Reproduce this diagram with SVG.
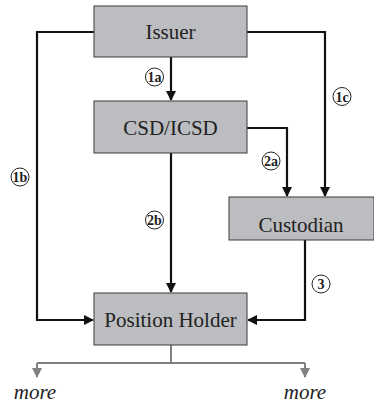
<svg xmlns="http://www.w3.org/2000/svg" width="374" height="405" viewBox="0 0 374 405">
<style>
text{font-family:'Liberation Serif','DejaVu Serif',serif}
.box{fill:#bcbdc0;stroke:#3a3a3a;stroke-width:1}
.lbl{font-size:21px;fill:#222;text-anchor:middle}
.ln{fill:none;stroke:#111;stroke-width:2.2}
.gl{fill:none;stroke:#808080;stroke-width:2}
.cir{fill:#fff;stroke:#222;stroke-width:1}
.num{font-size:14px;font-weight:bold;fill:#222;text-anchor:middle}
.more{font-size:21px;font-style:italic;fill:#222;text-anchor:middle}
</style>
<defs>
<marker id="ah" markerWidth="10" markerHeight="10" refX="9" refY="5" orient="auto" markerUnits="userSpaceOnUse">
<path d="M0,0 L10,5 L0,10 Z" fill="#111"/>
</marker>
<marker id="gh" markerWidth="10" markerHeight="10" refX="9" refY="5" orient="auto" markerUnits="userSpaceOnUse">
<path d="M0,0 L10,5 L0,10 Z" fill="#808080"/>
</marker>
</defs>
<g id="connectors">
<path class="ln" d="M171,57 V100" marker-end="url(#ah)"/>
<path class="ln" d="M94,32 H37 V320 H93" marker-end="url(#ah)"/>
<path class="ln" d="M247,32 H325 V196" marker-end="url(#ah)"/>
<path class="ln" d="M247,128 H287 V196" marker-end="url(#ah)"/>
<path class="ln" d="M171,153 V292" marker-end="url(#ah)"/>
<path class="ln" d="M305,240 V320 H248" marker-end="url(#ah)"/>
<path class="gl" d="M171,345 V363"/>
<path class="gl" d="M37,363 H305"/>
<path class="gl" d="M37,363 V377" marker-end="url(#gh)"/>
<path class="gl" d="M305,363 V377" marker-end="url(#gh)"/>
<g id="labels">
<circle class="cir" cx="154.5" cy="77" r="9"/><text class="num" x="154.5" y="82">1a</text>
<circle class="cir" cx="342" cy="96.5" r="9"/><text class="num" x="342" y="101.5">1c</text>
<circle class="cir" cx="20" cy="177" r="9"/><text class="num" x="20" y="182">1b</text>
<circle class="cir" cx="271" cy="161" r="9"/><text class="num" x="271" y="166">2a</text>
<circle class="cir" cx="154.5" cy="220" r="9"/><text class="num" x="154.5" y="225">2b</text>
<circle class="cir" cx="321" cy="284" r="9"/><text class="num" x="321" y="289">3</text>
</g>
</g>
<g id="issuer"><rect class="box" x="94" y="6" width="153" height="51"/><text class="lbl" x="170.5" y="39">Issuer</text></g>
<g id="csd"><rect class="box" x="94" y="101" width="153" height="52"/><text class="lbl" x="170.5" y="135">CSD/ICSD</text></g>
<g id="custodian"><rect class="box" x="229" y="197" width="145" height="43"/><text class="lbl" x="301" y="232">Custodian</text></g>
<g id="positionholder"><rect class="box" x="94" y="293" width="153" height="52"/><text class="lbl" x="170.5" y="327">Position Holder</text></g>
<g id="more-left"><text class="more" x="35" y="399">more</text></g>
<g id="more-right"><text class="more" x="305" y="399">more</text></g>
</svg>
